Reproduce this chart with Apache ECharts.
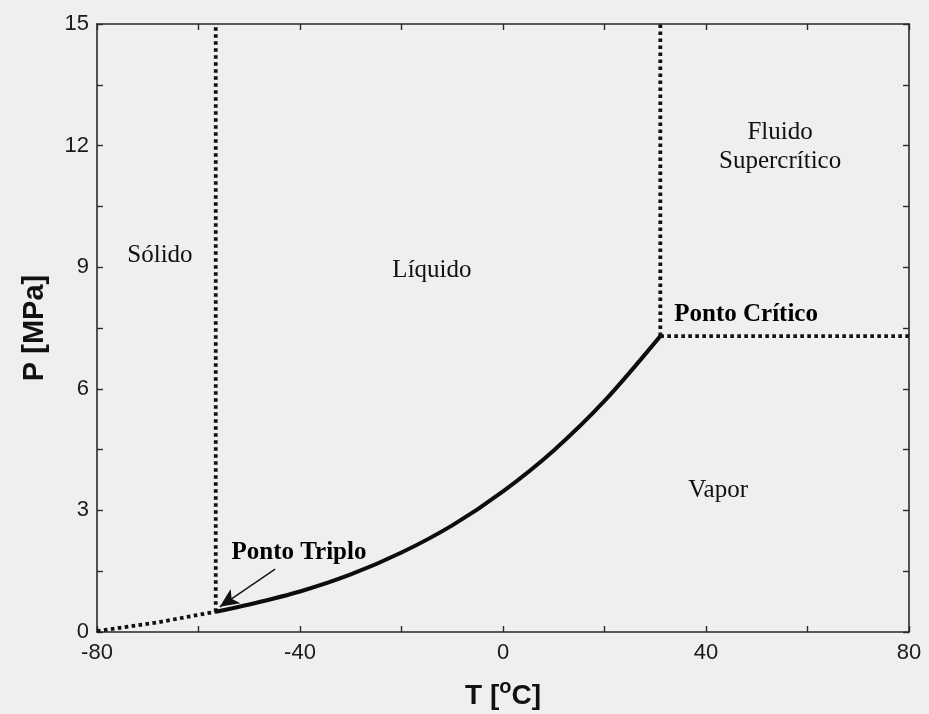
<!DOCTYPE html>
<html>
<head>
<meta charset="utf-8">
<script src="https://cdn.jsdelivr.net/npm/echarts@6/dist/echarts.min.js"></script>
<style>
  html, body { margin: 0; padding: 0; background: #efefef; }
  #chart { width: 929px; height: 714px; }
</style>
</head>
<body>
<div id="chart"></div>
<script>
// CO2 phase diagram: temperature (°C) vs pressure (MPa)

// Axis ranges and ticks
const xRange = [-80, 80];
const xTickStep = 20;
const xLabelStep = 40;
const yRange = [0, 15];
const yTickStep = 1.5;
const yLabelStep = 3;

// Solid–vapour (sublimation) boundary, dotted
const sublimationT = [-80, -68, -56.6];
const sublimationP = [0.02, 0.24, 0.5];

// Liquid–vapour (boiling) curve, solid: triple point to critical point
const boilingT = [-56.6, -50, -40, -30, -20, -10, 0, 10, 20, 31];
const boilingP = [0.5, 0.68, 1.0, 1.42, 1.96, 2.63, 3.47, 4.48, 5.7, 7.3];

// Solid–liquid (melting) boundary, dotted vertical
const meltingT = [-56.6, -56.6];
const meltingP = [0.5, 15];

// Supercritical boundaries, dotted
const critVertT = [31, 31];
const critVertP = [7.3, 15];
const critHorizT = [31, 80];
const critHorizP = [7.3, 7.3];

// Region and point labels [T, P, text]
const regionLabels = [
  [-67.6, 9.3, 'Sólido'],
  [-14, 8.93, 'Líquido'],
  [42.4, 3.5, 'Vapor'],
  [54.6, 11.97, 'Fluido\nSupercrítico']
];
const pointLabels = [
  [47.9, 7.82, 'Ponto Crítico'],
  [-40.2, 1.95, 'Ponto Triplo']
];

// Arrow from the "Ponto Triplo" label down to the triple point
const arrowFrom = [-44.9, 1.55];
const arrowTo = [-55.8, 0.62];

const zip = (xs, ys) => xs.map((x, i) => [x, ys[i]]);

const axisColor = '#2a2a2a';
const sans = 'Liberation Sans, Arial, sans-serif';
const serif = 'Liberation Serif, Times New Roman, serif';
const tickFont = { fontFamily: sans, fontSize: 22, color: '#1a1a1a' };

function xAxisDef(pos, showLabels) {
  return {
    type: 'value', position: pos, min: xRange[0], max: xRange[1], interval: xTickStep,
    axisLine: { show: true, onZero: false, lineStyle: { color: axisColor, width: 1.6 } },
    axisTick: { show: true, inside: true, length: 6, lineStyle: { color: axisColor, width: 1.4 } },
    axisLabel: showLabels ? Object.assign({
      margin: 10,
      formatter: v => (v % xLabelStep === 0 ? String(v) : '')
    }, tickFont) : { show: false },
    splitLine: { show: false }
  };
}
function yAxisDef(pos, showLabels) {
  return {
    type: 'value', position: pos, min: yRange[0], max: yRange[1], interval: yTickStep,
    axisLine: { show: true, onZero: false, lineStyle: { color: axisColor, width: 1.6 } },
    axisTick: { show: true, inside: true, length: 6, lineStyle: { color: axisColor, width: 1.4 } },
    axisLabel: showLabels ? Object.assign({
      margin: 8,
      formatter: v => (Math.abs(v % yLabelStep) < 1e-9 ? String(v) : '')
    }, tickFont) : { show: false },
    splitLine: { show: false }
  };
}

const xMain = xAxisDef('bottom', true);
xMain.name = 'T [{sup|o}C]';
xMain.nameLocation = 'middle';
xMain.nameGap = 45;
xMain.nameTextStyle = {
  fontFamily: sans, fontWeight: 'bold', fontSize: 28, color: '#111',
  rich: { sup: { fontFamily: sans, fontWeight: 'bold', fontSize: 20, color: '#111', verticalAlign: 'top', padding: [0, 0, 18, 0] } }
};

const yMain = yAxisDef('left', true);
yMain.name = 'P [MPa]';
yMain.nameLocation = 'middle';
yMain.nameRotate = 90;
yMain.nameGap = 48;
yMain.nameTextStyle = { fontFamily: sans, fontWeight: 'bold', fontSize: 29, color: '#111' };

const dotted = { color: '#111', width: 3.8, type: [3.6, 3.4], cap: 'butt' };

const option = {
  backgroundColor: '#efefef',
  animation: false,
  grid: { left: 97, right: 20, top: 24, bottom: 82, outerBoundsMode: 'none', containLabel: false },
  xAxis: [xMain, xAxisDef('top', false)],
  yAxis: [yMain, yAxisDef('right', false)],
  series: [
    { type: 'line', data: zip(sublimationT, sublimationP), symbol: 'none', lineStyle: dotted, z: 3 },
    { type: 'line', data: zip(meltingT, meltingP), symbol: 'none', lineStyle: dotted, z: 3 },
    { type: 'line', data: zip(critVertT, critVertP), symbol: 'none', lineStyle: dotted, z: 3 },
    { type: 'line', data: zip(critHorizT, critHorizP), symbol: 'none', lineStyle: dotted, z: 3 },
    {
      type: 'line', data: zip(boilingT, boilingP), symbol: 'none', smooth: 0.3,
      lineStyle: { color: '#0d0d0d', width: 4 }, z: 4,
      markLine: {
        silent: true, symbol: ['none', 'arrow'], symbolSize: [13, 19],
        label: { show: false },
        lineStyle: { color: '#111', width: 1.4, type: 'solid' },
        data: [[{ coord: arrowFrom }, { coord: arrowTo }]]
      }
    },
    {
      type: 'scatter', symbolSize: 0, silent: true,
      itemStyle: { opacity: 1 },
      data: regionLabels.map(d => ({ value: [d[0], d[1]], name: d[2] })),
      label: {
        show: true, position: 'inside', formatter: p => p.name, opacity: 1,
        fontFamily: serif, fontSize: 25, color: '#111', lineHeight: 29
      }
    },
    {
      type: 'scatter', symbolSize: 0, silent: true,
      itemStyle: { opacity: 1 },
      data: pointLabels.map(d => ({ value: [d[0], d[1]], name: d[2] })),
      label: {
        show: true, position: 'inside', formatter: p => p.name, opacity: 1,
        fontFamily: serif, fontWeight: 'bold', fontSize: 25, color: '#000'
      }
    }
  ]
};

echarts.init(document.getElementById('chart')).setOption(option);
</script>
</body>
</html>
